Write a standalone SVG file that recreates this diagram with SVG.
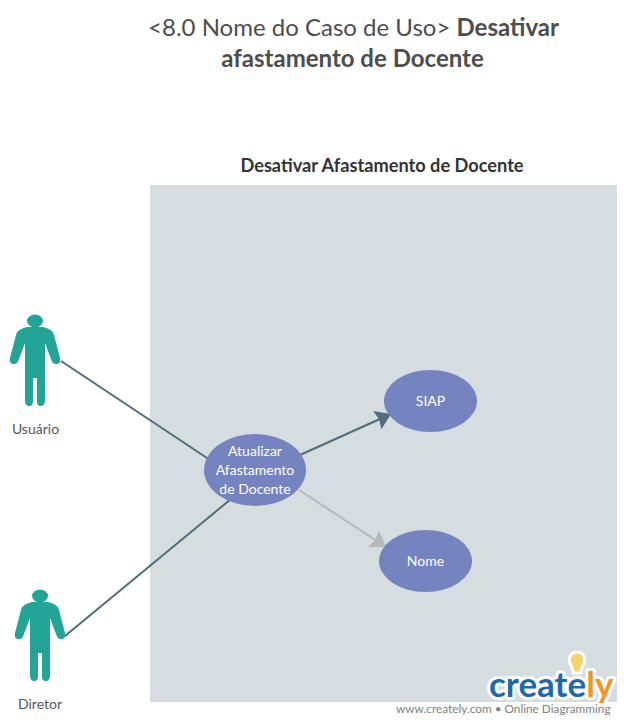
<svg xmlns="http://www.w3.org/2000/svg" width="625" height="725" viewBox="0 0 625 725">
<style>
text{font-family:Lato,"Liberation Sans",sans-serif}
.t{font-size:24px;fill:#4d4d4d;text-anchor:middle}
.n{font-size:14px;fill:#fff;text-anchor:middle}
.a{font-size:14px;fill:#555;text-anchor:middle}
.uc{fill:#7584c0}
.c{fill:none;stroke:#4f6d7a;stroke-width:2}
.act{fill:#22a596}
</style>
<defs>
<marker id="ad" markerUnits="userSpaceOnUse" markerWidth="18" markerHeight="22" refX="15" refY="10" orient="auto"><path d="M0 0L15 10L0 20L2 10Z" fill="#4f6d7a"/></marker>
<marker id="ag" markerUnits="userSpaceOnUse" markerWidth="18" markerHeight="22" refX="15" refY="10" orient="auto"><path d="M0 0L15 10L0 20L2 10Z" fill="#b8b8b8"/></marker>
<g id="fig"><path d="M-8 4C-15 6-18 8-19 12L-25 35C-26 39-24 41-21 41C-18 41-17 39-16 36L-10 20V78C-10 81-8 83-6 83C-3 83-2 81-2 78V55H2V78C2 81 3 83 6 83C8 83 10 81 10 78V20L16 36C17 39 18 41 21 41C24 41 26 39 25 35L19 12C18 8 15 6 8 4Z"/><ellipse cx="0" cy="-2" rx="8" ry="6.500"/></g>
</defs>
<rect width="625" height="725" fill="#fff"/>
<g id="title">
<text class="t" x="353.500" y="36">&lt;8.0 Nome do Caso de Uso&gt; <tspan font-weight="700">Desativar</tspan></text>
<text class="t" x="352.500" y="67" font-weight="700">afastamento de Docente</text>
</g>
<g id="boundary">
<rect x="150" y="185" width="467" height="517" fill="#d6dde0"/>
<text x="382" y="172" font-size="18.200" font-weight="700" fill="#333" text-anchor="middle">Desativar Afastamento de Docente</text>
</g>
<g id="connectors">
<path class="c" d="M61 361L210 460"/>
<path class="c" d="M65 636L231 499"/>
<path class="c" d="M300 455L391 414" marker-end="url(#ad)"/>
<path d="M299 490L386 547" fill="none" stroke="#b8b8b8" stroke-width="2" marker-end="url(#ag)"/>
</g>
<g id="usuario">
<use href="#fig" x="35" y="323" class="act"/>
<text class="a" x="35.500" y="434">Usuário</text>
</g>
<g id="diretor">
<use href="#fig" x="40" y="598" class="act"/>
<text class="a" x="40" y="709">Diretor</text>
</g>
<g id="atualizar">
<ellipse class="uc" cx="255" cy="470" rx="51" ry="36"/>
<text class="n" x="255" y="456">Atualizar</text>
<text class="n" x="255" y="475">Afastamento</text>
<text class="n" x="255" y="494">de Docente</text>
</g>
<g id="siap">
<ellipse class="uc" cx="430.500" cy="401" rx="46.500" ry="31"/>
<text class="n" x="430.500" y="406">SIAP</text>
</g>
<g id="nome">
<ellipse class="uc" cx="425.500" cy="561" rx="46.500" ry="31"/>
<text class="n" x="425.500" y="566">Nome</text>
</g>
<g id="watermark">
<rect x="470" y="702" width="155" height="23" fill="#fff"/>
<path d="M577 652C571 652 568 657 570 663C571 667 573 668 573 673H581C581 668 583 667 584 663C586 657 583 652 577 652Z" fill="#f7d36b" stroke="#fff" stroke-width="3"/>
<text x="489" y="697" font-size="35" font-weight="700" fill="#1f68ae" stroke="#fff" stroke-width="6" paint-order="stroke" stroke-linejoin="round">create<tspan fill="#f7941e">ly</tspan></text>
<text x="396" y="713" font-size="11.800" fill="#808080">www.creately.com • Online Diagramming</text>
</g>
</svg>
